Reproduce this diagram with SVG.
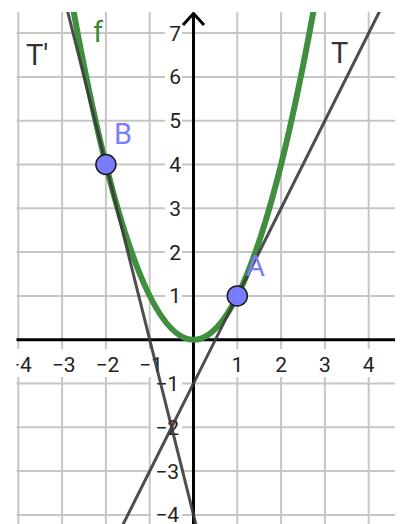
<svg xmlns="http://www.w3.org/2000/svg" width="401" height="524" viewBox="0 0 401 524">
<style>
.grid line{stroke:#c6c6c6;stroke-width:2}
.ax{stroke:#000;stroke-width:3;fill:none}
.num{font-family:Roboto,"Liberation Sans",sans-serif;font-size:21px;fill:#222}
.nbg{fill:#fff}
.tan{stroke:#3a3a3a;stroke-width:3;fill:none;stroke-opacity:0.9}
.pt{fill:#7b7bff;stroke:#1a1a1a;stroke-width:1.5}
.plab{font-family:Roboto,"Liberation Sans",sans-serif;font-size:29px;fill:#7d7dff}
.llab{font-family:Roboto,"Liberation Sans",sans-serif;font-size:29px;fill:#333}
</style>
<defs>
<clipPath id="area"><rect x="16.5" y="12" width="378.5" height="512"/></clipPath>
</defs>
<rect width="401" height="524" fill="#fff"/>
<g clip-path="url(#area)">
<g id="grid" class="grid">
<line x1="18.3" y1="12" x2="18.3" y2="524"/>
<line x1="62.1" y1="12" x2="62.1" y2="524"/>
<line x1="105.9" y1="12" x2="105.9" y2="524"/>
<line x1="149.7" y1="12" x2="149.7" y2="524"/>
<line x1="237.3" y1="12" x2="237.3" y2="524"/>
<line x1="281.1" y1="12" x2="281.1" y2="524"/>
<line x1="324.9" y1="12" x2="324.9" y2="524"/>
<line x1="368.7" y1="12" x2="368.7" y2="524"/>
<line x1="16" y1="33.1" x2="395" y2="33.1"/>
<line x1="16" y1="76.9" x2="395" y2="76.9"/>
<line x1="16" y1="120.7" x2="395" y2="120.7"/>
<line x1="16" y1="164.5" x2="395" y2="164.5"/>
<line x1="16" y1="208.3" x2="395" y2="208.3"/>
<line x1="16" y1="252.1" x2="395" y2="252.1"/>
<line x1="16" y1="295.9" x2="395" y2="295.9"/>
<line x1="16" y1="383.5" x2="395" y2="383.5"/>
<line x1="16" y1="427.3" x2="395" y2="427.3"/>
<line x1="16" y1="471.1" x2="395" y2="471.1"/>
<line x1="16" y1="514.9" x2="395" y2="514.9"/>
</g>
<g id="ylabels">
<rect class="nbg" x="165" y="24" width="17" height="18"/>
<rect class="nbg" x="165" y="68" width="17" height="18"/>
<rect class="nbg" x="165" y="112" width="17" height="18"/>
<rect class="nbg" x="165" y="156" width="17" height="18"/>
<rect class="nbg" x="165" y="199" width="17" height="18"/>
<rect class="nbg" x="165" y="243" width="17" height="18"/>
<rect class="nbg" x="165" y="287" width="17" height="18"/>
<rect class="nbg" x="151" y="375" width="31" height="18"/>
<rect class="nbg" x="151" y="418" width="31" height="18"/>
<rect class="nbg" x="151" y="462" width="31" height="18"/>
<rect class="nbg" x="151" y="506" width="31" height="18"/>
<g class="num" text-anchor="end">
<text x="181" y="40.6">7</text>
<text x="181" y="84.4">6</text>
<text x="181" y="128.2">5</text>
<text x="181" y="172">4</text>
<text x="181" y="215.8">3</text>
<text x="181" y="259.6">2</text>
<text x="181" y="303.4">1</text>
<text x="179" y="391">−1</text>
<text x="179" y="434.8">−2</text>
<text x="179" y="478.6">−3</text>
<text x="179" y="522.4">−4</text>
</g>
</g>
<g id="xlabels">
<rect class="nbg" x="6" y="349" width="28" height="28"/>
<rect class="nbg" x="49" y="349" width="30" height="28"/>
<rect class="nbg" x="93" y="349" width="30" height="28"/>
<rect class="nbg" x="137" y="349" width="28" height="28"/>
<rect class="nbg" x="230" y="349" width="15" height="28"/>
<rect class="nbg" x="274" y="349" width="15" height="28"/>
<rect class="nbg" x="318" y="349" width="15" height="28"/>
<rect class="nbg" x="362" y="349" width="15" height="28"/>
<g class="num" text-anchor="middle">
<text x="19.8" y="372">−4</text>
<text x="63.6" y="372">−3</text>
<text x="107.4" y="372">−2</text>
<text x="151" y="372">−1</text>
<text x="237.3" y="372">1</text>
<text x="281.1" y="372">2</text>
<text x="324.9" y="372">3</text>
<text x="368.7" y="372">4</text>
</g>
</g>
<g id="axes">
<line class="ax" x1="16" y1="339.7" x2="395" y2="339.7"/>
<line class="ax" x1="193.5" y1="524" x2="193.5" y2="14"/>
<path class="ax" d="M183,25 L193.5,13.5 L204,25"/>
</g>
<g id="f">
<path d="M70.86,-3.7 Q193.5,683.1 316.14,-3.7" fill="none" stroke="#3f8f3f" stroke-width="6"/>
</g>
<g id="connectors">
<line id="T" class="tan" x1="105.9" y1="558.7" x2="390.6" y2="-10.7"/>
<line id="Tprime" class="tan" x1="62.1" y1="-10.7" x2="204.45" y2="558.7"/>
</g>
</g>
<g id="pointB">
<circle class="pt" cx="105.9" cy="164.5" r="10"/>
<text class="plab" x="114" y="143.5">B</text>
</g>
<g id="pointA">
<circle class="pt" cx="237.3" cy="295.9" r="10"/>
<text class="plab" x="246" y="275.5">A</text>
</g>
<g id="labels">
<text x="93" y="42" font-family="Roboto,'Liberation Sans',sans-serif" font-size="29px" fill="#3a8a3a">f</text>
<text class="llab" x="26" y="65">T'</text>
<text class="llab" x="331" y="63">T</text>
</g>
</svg>
